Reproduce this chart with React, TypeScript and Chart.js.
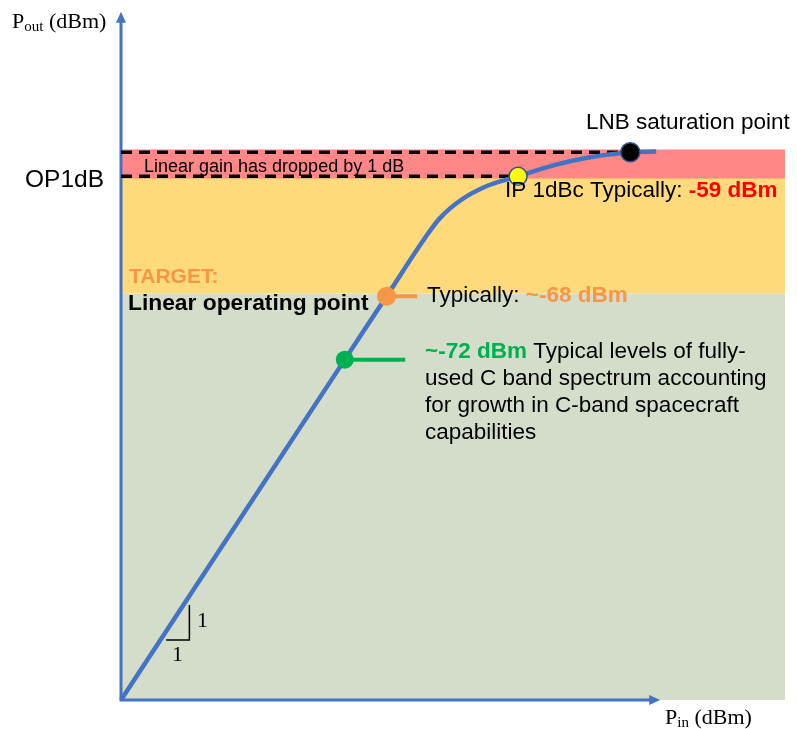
import React, { useEffect, useRef } from 'react';
import { Chart, registerables } from 'chart.js';

Chart.register(...registerables);

// ---- data (relative units: x = Pin, y = Pout) ----
const curveX = [0, 33.7, 40.0, 45.8, 48.0, 51.1, 55.1, 59.8, 65.1, 70.2, 76.7, 80.6];
const curveY = [0, 49.4, 58.6, 67.1, 69.9, 72.5, 74.6, 76.0, 77.6, 78.7, 79.5, 79.6];

const bandNames = ['linear', 'target', 'compression'];
const bandLow = [0, 59.0, 75.7];
const bandHigh = [59.0, 75.7, 79.9];
const bandXMax = 100;

const dashLevels = [79.5, 76.0];
const dashEndX = [76.7, 59.8];

const markerNames = ['IP 1dBc', 'LNB saturation', 'Linear operating point', 'C band typical'];
const markerX = [59.8, 76.7, 40.0, 33.7];
const markerY = [76.0, 79.5, 58.6, 49.4];

const connectorEndX = [44.6, 42.8]; // orange, green

const slopeX = [6.8, 10.3, 10.3];
const slopeY = [8.7, 8.7, 13.8];

const axisXEnd = 81.2;
const axisYEnd = 99.9;

// ---- styles ----
const BLUE = '#4472C4';
const ORANGE = '#F79646';
const GREEN = '#00B050';
const RED = '#FF0000';
const bandColors = ['#D3DDCA', '#FEDA7D', '#FF8787'];
const SANS = '"Liberation Sans", Arial, sans-serif';
const SERIF = '"Liberation Serif", "Times New Roman", serif';

type Run = { t: string; font: string; color?: string; dy?: number };
type Label = { x: number; y: number; runs: Run[] };

const f = (size: number, bold = false, fam = SANS) => `${bold ? 'bold ' : ''}${size}px ${fam}`;

const labels: Label[] = [
  { x: 12, y: 28, runs: [{ t: 'P', font: f(22, false, SERIF) }, { t: 'out', font: f(15, false, SERIF), dy: 3 }, { t: ' (dBm)', font: f(22, false, SERIF) }] },
  { x: 665, y: 724, runs: [{ t: 'P', font: f(22, false, SERIF) }, { t: 'in', font: f(15, false, SERIF), dy: 3 }, { t: ' (dBm)', font: f(22, false, SERIF) }] },
  { x: 25, y: 187, runs: [{ t: 'OP1dB', font: f(24.5) }] },
  { x: 144, y: 172, runs: [{ t: 'Linear gain has dropped by 1 dB', font: f(18) }] },
  { x: 586, y: 129, runs: [{ t: 'LNB saturation point', font: f(22.5) }] },
  { x: 505, y: 197, runs: [{ t: 'IP 1dBc Typically: ', font: f(22.5) }, { t: '-59 dBm', font: f(22.5, true), color: RED }] },
  { x: 129, y: 283, runs: [{ t: 'TARGET:', font: f(21, true), color: ORANGE }] },
  { x: 128, y: 310, runs: [{ t: 'Linear operating point', font: f(22.8, true) }] },
  { x: 427, y: 302, runs: [{ t: 'Typically: ', font: f(22.5) }, { t: '~-68 dBm', font: f(22.5, true), color: ORANGE }] },
  { x: 425, y: 358, runs: [{ t: '~-72 dBm', font: f(22.5, true), color: GREEN }, { t: ' Typical levels of fully-', font: f(22.5) }] },
  { x: 425, y: 385, runs: [{ t: 'used C band spectrum accounting', font: f(22.5) }] },
  { x: 425, y: 412, runs: [{ t: 'for growth in C-band spacecraft', font: f(22.5) }] },
  { x: 425, y: 439, runs: [{ t: 'capabilities', font: f(22.5) }] },
  { x: 197, y: 627, runs: [{ t: '1', font: f(22, false, SERIF) }] },
  { x: 172, y: 661, runs: [{ t: '1', font: f(22, false, SERIF) }] },
];

const pts = (xs: number[], ys: number[]) => xs.map((x, i) => ({ x, y: ys[i] }));

export default function App() {
  const ref = useRef<HTMLCanvasElement>(null);

  useEffect(() => {
    const canvas = ref.current;
    if (!canvas) return;

    const backgroundPlugin = {
      id: 'bandsAndAxes',
      beforeDatasetsDraw(chart: any) {
        const { ctx, scales } = chart;
        const x = scales.x, y = scales.y;
        ctx.save();
        bandNames.forEach((_, i) => {
          const x0 = x.getPixelForValue(0);
          const x1 = x.getPixelForValue(bandXMax);
          const yt = y.getPixelForValue(bandHigh[i]);
          const yb = y.getPixelForValue(bandLow[i]);
          ctx.fillStyle = bandColors[i];
          ctx.fillRect(x0, yt, x1 - x0, yb - yt);
        });
        // thin boundary between compression and target bands
        const yb2 = y.getPixelForValue(bandLow[2]);
        ctx.strokeStyle = '#F8B36A';
        ctx.lineWidth = 1;
        ctx.beginPath();
        ctx.moveTo(x.getPixelForValue(0), yb2);
        ctx.lineTo(x.getPixelForValue(bandXMax), yb2);
        ctx.stroke();

        // axes with arrows
        const ox = x.getPixelForValue(0);
        const oy = y.getPixelForValue(0);
        const xe = x.getPixelForValue(axisXEnd);
        const ye = y.getPixelForValue(axisYEnd);
        ctx.strokeStyle = BLUE;
        ctx.fillStyle = BLUE;
        ctx.lineWidth = 3;
        ctx.lineCap = 'square';
        ctx.beginPath();
        ctx.moveTo(xe - 8, oy);
        ctx.lineTo(ox, oy);
        ctx.lineTo(ox, ye + 8);
        ctx.stroke();
        ctx.beginPath();
        ctx.moveTo(xe, oy);
        ctx.lineTo(xe - 11, oy - 5);
        ctx.lineTo(xe - 11, oy + 5);
        ctx.closePath();
        ctx.fill();
        ctx.beginPath();
        ctx.moveTo(ox, ye);
        ctx.lineTo(ox - 5, ye + 11);
        ctx.lineTo(ox + 5, ye + 11);
        ctx.closePath();
        ctx.fill();
        ctx.restore();
      },
    };

    const labelPlugin = {
      id: 'labels',
      afterDraw(chart: any) {
        const { ctx } = chart;
        ctx.save();
        ctx.textBaseline = 'alphabetic';
        ctx.textAlign = 'left';
        labels.forEach((l) => {
          let cx = l.x;
          l.runs.forEach((r) => {
            ctx.font = r.font;
            ctx.fillStyle = r.color || '#000000';
            ctx.fillText(r.t, cx, l.y + (r.dy || 0));
            cx += ctx.measureText(r.t).width;
          });
        });
        ctx.restore();
      },
    };

    const line = (data: any, color: string, width: number, order: number, extra: any = {}) => ({
      data,
      showLine: true,
      borderColor: color,
      borderWidth: width,
      pointRadius: 0,
      tension: 0,
      fill: false,
      order,
      clip: false,
      ...extra,
    });

    const chart = new Chart(canvas, {
      type: 'scatter',
      data: {
        datasets: [
          {
            data: pts(markerX, markerY),
            showLine: false,
            pointRadius: [9, 9.5, 9.5, 9],
            pointBackgroundColor: ['#FFFF00', '#000000', ORANGE, GREEN],
            pointBorderColor: ['#2F528F', '#2F528F', ORANGE, GREEN],
            pointBorderWidth: [1.5, 1.5, 0, 0],
            order: 0,
            clip: false,
          } as any,
          line(pts([markerX[2], connectorEndX[0]], [markerY[2], markerY[2]]), ORANGE, 4, 1),
          line(pts([markerX[3], connectorEndX[1]], [markerY[3], markerY[3]]), GREEN, 4, 1),
          line(pts(curveX, curveY), BLUE, 4.5, 2, { cubicInterpolationMode: 'monotone', borderCapStyle: 'butt' }),
          line(pts([0, dashEndX[0]], [dashLevels[0], dashLevels[0]]), '#000000', 3.5, 3, { borderDash: [11, 7] }),
          line(pts([0, dashEndX[1]], [dashLevels[1], dashLevels[1]]), '#000000', 3.5, 3, { borderDash: [11, 7] }),
          line(pts(slopeX, slopeY), '#000000', 1.5, 3),
        ],
      },
      options: {
        animation: false,
        responsive: false,
        maintainAspectRatio: false,
        events: [],
        layout: { padding: { left: 121, right: 12, top: 10, bottom: 29 } },
        scales: {
          x: { type: 'linear', min: 0, max: 100, display: false },
          y: { type: 'linear', min: 0, max: 100, display: false },
        },
        plugins: {
          legend: { display: false },
          tooltip: { enabled: false },
        },
      },
      plugins: [backgroundPlugin, labelPlugin],
    } as any);

    return () => chart.destroy();
  }, []);

  return (
    <div style={{ position: 'absolute', left: 0, top: 0, width: 797, height: 729, background: '#ffffff' }}>
      <canvas ref={ref} width={797} height={729} style={{ display: 'block' }} />
    </div>
  );
}
